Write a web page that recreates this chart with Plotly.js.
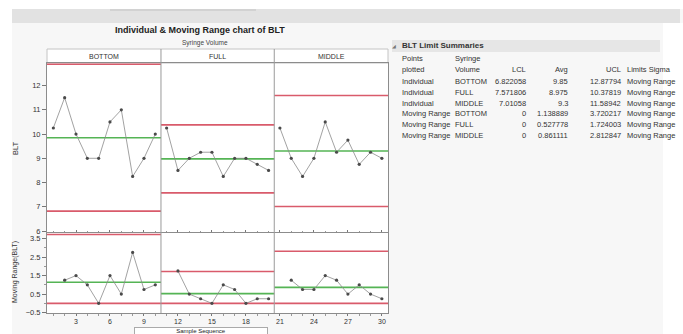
<!DOCTYPE html>
<html><head><meta charset="utf-8">
<script src="https://cdn.plot.ly/plotly-3.0.1.min.js"></script>
<style>html,body{margin:0;padding:0;background:#fff;}#chart{width:683px;height:334px;}</style>
</head><body><div id="chart"></div>
<script>
// ---------------- data ----------------
const phases = ['BOTTOM', 'FULL', 'MIDDLE'];
const sampleBottom = [1, 2, 3, 4, 5, 6, 7, 8, 9, 10];
const sampleFull = [11, 12, 13, 14, 15, 16, 17, 18, 19, 20];
const sampleMiddle = [21, 22, 23, 24, 25, 26, 27, 28, 29, 30];
const bltBottom = [10.25, 11.5, 10, 9, 9, 10.5, 11, 8.25, 9, 10];
const bltFull = [10.25, 8.5, 9, 9.25, 9.25, 8.25, 9, 9, 8.75, 8.5];
const bltMiddle = [10.25, 9, 8.25, 9, 10.5, 9.25, 9.75, 8.75, 9.25, 9];
const mrSampleBottom = [2, 3, 4, 5, 6, 7, 8, 9, 10];
const mrSampleFull = [12, 13, 14, 15, 16, 17, 18, 19, 20];
const mrSampleMiddle = [22, 23, 24, 25, 26, 27, 28, 29, 30];
const mrBottom = [1.25, 1.5, 1, 0, 1.5, 0.5, 2.75, 0.75, 1];
const mrFull = [1.75, 0.5, 0.25, 0, 1, 0.75, 0, 0.25, 0.25];
const mrMiddle = [1.25, 0.75, 0.75, 1.5, 1.25, 0.5, 1, 0.5, 0.25];
// limits per phase (BOTTOM, FULL, MIDDLE)
const indLCL = [6.822058, 7.571806, 7.01058];
const indAvg = [9.85, 8.975, 9.3];
const indUCL = [12.87794, 10.37819, 11.58942];
const mrLCL = [0, 0, 0];
const mrAvg = [1.138889, 0.527778, 0.861111];
const mrUCL = [3.720217, 1.724003, 2.812847];
const pointsPlotted = ['Individual', 'Individual', 'Individual', 'Moving Range', 'Moving Range', 'Moving Range'];
const volumeCol = ['BOTTOM', 'FULL', 'MIDDLE', 'BOTTOM', 'FULL', 'MIDDLE'];
const limitsSigma = ['Moving Range', 'Moving Range', 'Moving Range', 'Moving Range', 'Moving Range', 'Moving Range'];

// ---------------- layout helpers ----------------
const L = 47, R = 388, T = 63, B = 313;
const px = x => (x - L) / (R - L);
const py = y => (B - y) / (B - T);
const XR = [0.44, 30.54];
const FONT = 'Liberation Sans, Arial, sans-serif';
const RED = '#d95b6b', GREEN = '#55b455';

const samples = [sampleBottom, sampleFull, sampleMiddle];
const blts = [bltBottom, bltFull, bltMiddle];
const mrSamples = [mrSampleBottom, mrSampleFull, mrSampleMiddle];
const mrs = [mrBottom, mrFull, mrMiddle];

// phase boundaries
const bounds = [XR[0]];
for (let i = 0; i < samples.length - 1; i++) {
  bounds.push((samples[i][samples[i].length - 1] + samples[i + 1][0]) / 2);
}
bounds.push(XR[1]);

const traces = [];
function hline(i, v, color, yax) {
  traces.push({x: [bounds[i], bounds[i + 1]], y: [v, v], xaxis: 'x', yaxis: yax, mode: 'lines',
    line: {color: color, width: 1.6}, hoverinfo: 'skip'});
}
for (let i = 0; i < phases.length; i++) {
  hline(i, indLCL[i], RED, 'y'); hline(i, indUCL[i], RED, 'y'); hline(i, indAvg[i], GREEN, 'y');
  hline(i, mrLCL[i], RED, 'y2'); hline(i, mrUCL[i], RED, 'y2'); hline(i, mrAvg[i], GREEN, 'y2');
  traces.push({x: samples[i], y: blts[i], xaxis: 'x', yaxis: 'y', mode: 'lines+markers',
    line: {color: '#8a8a8a', width: 0.8}, marker: {color: '#4a4a4a', size: 3.2}});
  traces.push({x: mrSamples[i], y: mrs[i], xaxis: 'x', yaxis: 'y2', mode: 'lines+markers',
    line: {color: '#8a8a8a', width: 0.8}, marker: {color: '#4a4a4a', size: 3.2}});
}

function fmt(v) {
  if (Number.isInteger(v)) return String(v);
  const intDigits = Math.max(1, String(Math.floor(Math.abs(v))).length);
  let s = v.toFixed(Math.max(0, 7 - intDigits));
  s = s.replace(/0+$/, '').replace(/\.$/, '');
  return s;
}

const ann = [];
function text(t, x, y, opts) {
  ann.push(Object.assign({text: t, x: px(x), y: py(y), xref: 'paper', yref: 'paper', showarrow: false,
    xanchor: 'left', yanchor: 'middle', font: {family: FONT, size: 7.5, color: '#333'}}, opts || {}));
}
text('<b>Individual & Moving Range chart of BLT</b>', 200, 30, {xanchor: 'center', font: {family: FONT, size: 9, color: '#222'}});
text('Syringe Volume', 205, 43, {xanchor: 'center', font: {family: FONT, size: 6.5, color: '#444'}});
for (let i = 0; i < phases.length; i++) {
  const c = (bounds[i] + bounds[i + 1]) / 2;
  ann.push({text: phases[i], x: c, xref: 'x', y: py(56.5), yref: 'paper', showarrow: false,
    xanchor: 'center', yanchor: 'middle', font: {family: FONT, size: 7, color: '#333'}});
}
text('BLT', 15, 148, {xanchor: 'center', textangle: -90, font: {family: FONT, size: 7.5, color: '#333'}});
text('Moving Range(BLT)', 15, 272, {xanchor: 'center', textangle: -90, font: {family: FONT, size: 7, color: '#333'}});
text('Sample Sequence', 201, 327, {xanchor: 'center', yanchor: 'top', font: {family: FONT, size: 6, color: '#222'},
  bordercolor: '#aaa', borderwidth: 1, bgcolor: '#fff', borderpad: 0, width: 132});

// summary table
text('<b>BLT Limit Summaries</b>', 400, 45.5, {font: {family: FONT, size: 8, color: '#333'}});
text('◢', 394, 46, {xanchor: 'center', font: {family: FONT, size: 5, color: '#777'}});
text('Points', 400, 58.5); text('plotted', 400, 69.5);
text('Syringe', 453, 58.5); text('Volume', 453, 69.5);
text('LCL', 528, 69.5, {xanchor: 'right'});
text('Avg', 570, 69.5, {xanchor: 'right'});
text('UCL', 623, 69.5, {xanchor: 'right'});
text('Limits Sigma', 625, 69.5);
const lclCol = indLCL.concat(mrLCL), avgCol = indAvg.concat(mrAvg), uclCol = indUCL.concat(mrUCL);
for (let r = 0; r < pointsPlotted.length; r++) {
  const y = 81.5 + r * 10.8;
  text(pointsPlotted[r], 400, y);
  text(volumeCol[r], 453, y);
  text(fmt(lclCol[r]), 528, y, {xanchor: 'right'});
  text(fmt(avgCol[r]), 570, y, {xanchor: 'right'});
  text(fmt(uclCol[r]), 623, y, {xanchor: 'right'});
  text(limitsSigma[r], 625, y);
}

const shapes = [
  {type: 'rect', xref: 'paper', yref: 'paper', x0: px(0), x1: px(12), y0: py(334), y1: py(0), fillcolor: '#fff', line: {width: 0}, layer: 'below'},
  {type: 'rect', xref: 'paper', yref: 'paper', x0: px(0), x1: px(683), y0: py(9), y1: py(0), fillcolor: '#fff', line: {width: 0}, layer: 'below'},
  {type: 'rect', xref: 'paper', yref: 'paper', x0: px(663), x1: px(683), y0: py(334), y1: py(23), fillcolor: '#fff', line: {width: 0}, layer: 'below'},
  {type: 'rect', xref: 'paper', yref: 'paper', x0: px(12), x1: px(680), y0: py(23), y1: py(9), fillcolor: '#e2e2e2', line: {width: 0}, layer: 'below'},
  {type: 'rect', xref: 'paper', yref: 'paper', x0: px(110), x1: px(256), y0: py(11), y1: py(9), fillcolor: '#d2d2d2', line: {width: 0}, layer: 'below'},
  {type: 'rect', xref: 'paper', yref: 'paper', x0: 0, x1: 1, y0: 1, y1: py(49), fillcolor: '#fff', line: {color: '#c4c4c4', width: 1}, layer: 'below'},
  {type: 'rect', xref: 'paper', yref: 'paper', x0: px(392), x1: px(660), y0: py(52), y1: py(40), fillcolor: '#e6e6e6', line: {width: 0}, layer: 'below'}
];
for (let i = 1; i < bounds.length - 1; i++) {
  shapes.push({type: 'line', xref: 'x', yref: 'paper', x0: bounds[i], x1: bounds[i], y0: 0, y1: py(49),
    line: {color: '#9a9a9a', width: 1}});
}

const axisCommon = {showgrid: false, zeroline: false, showline: true, linecolor: '#8c8c8c', linewidth: 1,
  ticks: 'outside', tickcolor: '#777', tickfont: {family: FONT, size: 7.5, color: '#333'}};

const layout = {
  width: 683, height: 334,
  margin: {l: L, r: 683 - R, t: T, b: 334 - B, pad: 0},
  paper_bgcolor: '#f7f7f7', plot_bgcolor: '#ffffff',
  showlegend: false,
  font: {family: FONT, size: 8, color: '#333'},
  xaxis: Object.assign({}, axisCommon, {range: XR, tick0: 0, dtick: 3, ticklen: 2, anchor: 'y2', mirror: 'all',
    tickfont: {family: FONT, size: 7, color: '#333'},
    minor: {dtick: 1, ticklen: 1.5, tickcolor: '#999', ticks: 'outside'}}),
  yaxis: Object.assign({}, axisCommon, {domain: [py(232), 1], range: [5.96, 12.93], tick0: 0, dtick: 1, ticklen: 4,
    anchor: 'x', mirror: true}),
  yaxis2: Object.assign({}, axisCommon, {domain: [0, py(233)], range: [-0.52, 3.8], tick0: -0.5, dtick: 1,
    tickformat: '.1f', ticklen: 4, anchor: 'x', mirror: true,
    minor: {dtick: 0.5, ticklen: 2, tickcolor: '#999', ticks: 'outside'}}),
  shapes: shapes,
  annotations: ann
};

Plotly.newPlot('chart', traces, layout, {displayModeBar: false, staticPlot: true});
</script>
</body></html>
